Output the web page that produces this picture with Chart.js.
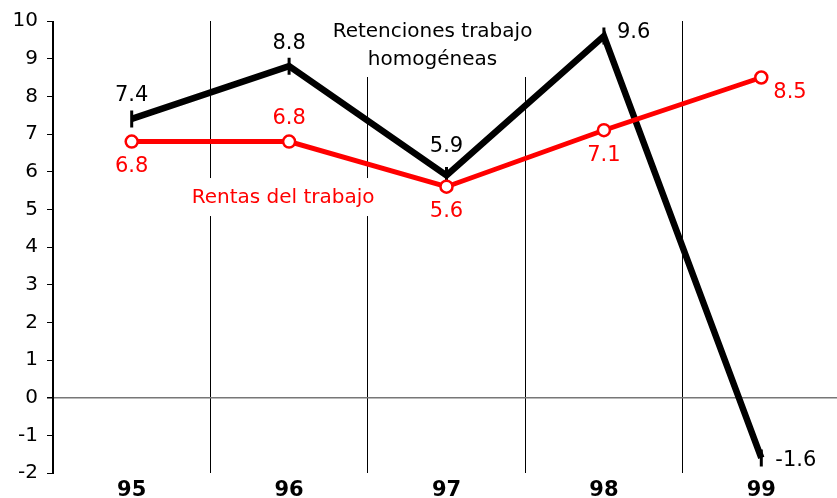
<!DOCTYPE html>
<html>
<head>
<meta charset="utf-8">
<script src="https://cdn.jsdelivr.net/npm/chart.js@4.4.1/dist/chart.umd.min.js"></script>
<style>
  html, body { margin: 0; padding: 0; background: #fff; overflow: hidden; }
  #wrap { width: 840px; height: 498px; }
</style>
</head>
<body>
<div id="wrap"><canvas id="chart"></canvas></div>
<script>
const years = ['95', '96', '97', '98', '99']
const retenciones = [7.4, 8.8, 5.9, 9.6, -1.6]
const rentas = [6.8, 6.8, 5.6, 7.1, 8.5]
const yTicks = [-2, -1, 0, 1, 2, 3, 4, 5, 6, 7, 8, 9, 10]

// where each value label sits relative to its point
const retencionesPos = ['above', 'above', 'aboveHigh', 'rightUp', 'right']
const rentasPos = ['below', 'above', 'below', 'below', 'rightBelow']

const FONT = '"DejaVu Sans", Verdana, sans-serif'

const offsets = {
  above: [0, -23, 'center'],
  aboveHigh: [0, -29, 'center'],
  below: [0, 25, 'center'],
  rightUp: [13, -4, 'left'],
  right: [14, 3, 'left'],
  rightBelow: [12, 15, 'left']
}

const valueLabels = {
  id: 'valueLabels',
  afterDatasetsDraw (chart) {
    const ctx = chart.ctx
    ctx.save()
    ctx.font = `21px ${FONT}`
    ctx.textBaseline = 'middle'
    chart.data.datasets.forEach((ds, i) => {
      const meta = chart.getDatasetMeta(i)
      meta.data.forEach((pt, j) => {
        const [dx, dy, align] = offsets[ds.labelPos[j]]
        ctx.textAlign = align
        ctx.fillStyle = ds.borderColor
        ctx.fillText(ds.data[j].toFixed(1), pt.x + dx, pt.y + dy)
      })
    })
    ctx.restore()
  }
}

const seriesNames = {
  id: 'seriesNames',
  beforeDatasetsDraw (chart) {
    const ctx = chart.ctx
    const xs = chart.scales.x
    const ys = chart.scales.y
    const top = ys.getPixelForValue(10)
    ctx.save()
    ctx.font = `20px ${FONT}`
    ctx.textAlign = 'center'
    ctx.textBaseline = 'middle'

    // black series name
    const bx = (xs.getPixelForValue(1) + xs.getPixelForValue(3)) / 2 - 14
    ctx.fillStyle = '#fff'
    ctx.fillRect(bx - 106, top - 2, 212, 58)
    ctx.fillStyle = '#000'
    ctx.fillText('Retenciones trabajo', bx, top + 11)
    ctx.fillText('homogéneas', bx, top + 39)

    // red series name
    const rx = (xs.getPixelForValue(0) + xs.getPixelForValue(2)) / 2 - 6
    const ry = ys.getPixelForValue(5.3)
    ctx.fillStyle = '#fff'
    ctx.fillRect(rx - 98, ry - 20, 196, 38)
    ctx.fillStyle = '#ff0000'
    ctx.fillText('Rentas del trabajo', rx, ry)
    ctx.restore()
  }
}

new Chart(document.getElementById('chart'), {
  type: 'line',
  data: {
    labels: years,
    datasets: [
      {
        label: 'Rentas del trabajo',
        data: rentas,
        labelPos: rentasPos,
        borderColor: '#ff0000',
        backgroundColor: '#fff',
        borderWidth: 5,
        pointRadius: 6,
        pointBorderWidth: 2.5,
        pointBackgroundColor: '#fff',
        pointStyle: 'circle',
        tension: 0
      },
      {
        label: 'Retenciones trabajo homogéneas',
        data: retenciones,
        labelPos: retencionesPos,
        borderColor: '#000',
        backgroundColor: '#000',
        borderWidth: 6.5,
        pointStyle: 'line',
        rotation: 90,
        pointRadius: 8.5,
        pointBorderWidth: 3,
        tension: 0
      }
    ]
  },
  options: {
    responsive: true,
    maintainAspectRatio: false,
    animation: false,
    layout: { autoPadding: false, padding: { top: 21, right: 0, left: 0, bottom: 0 } },
    plugins: {
      legend: { display: false },
      tooltip: { enabled: false }
    },
    scales: {
      x: {
        offset: true,
        border: { display: false },
        grid: {
          offset: true,
          color: '#000',
          lineWidth: 1,
          drawTicks: false
        },
        ticks: {
          color: '#000',
          padding: 5,
          font: { family: FONT, size: 21, weight: 'bold' }
        },
        afterFit (scale) {
          scale.height = 25
          scale.paddingLeft = 0
          scale.paddingRight = 0
        }
      },
      y: {
        min: -2,
        max: 10,
        afterBuildTicks (scale) { scale.ticks = yTicks.map((v) => ({ value: v })) },
        border: { display: true, color: '#000', width: 1 },
        grid: {
          color: (c) => (c.tick && c.tick.value === 0 ? '#777' : 'rgba(0,0,0,0)'),
          lineWidth: (c) => (c.tick && c.tick.value === 0 ? 1.5 : 1),
          tickColor: '#000',
          tickLength: 6
        },
        ticks: {
          color: '#000',
          padding: 9,
          font: { family: FONT, size: 20 }
        },
        afterFit (scale) { scale.width = 53 }
      }
    }
  },
  plugins: [seriesNames, valueLabels]
})
</script>
</body>
</html>
